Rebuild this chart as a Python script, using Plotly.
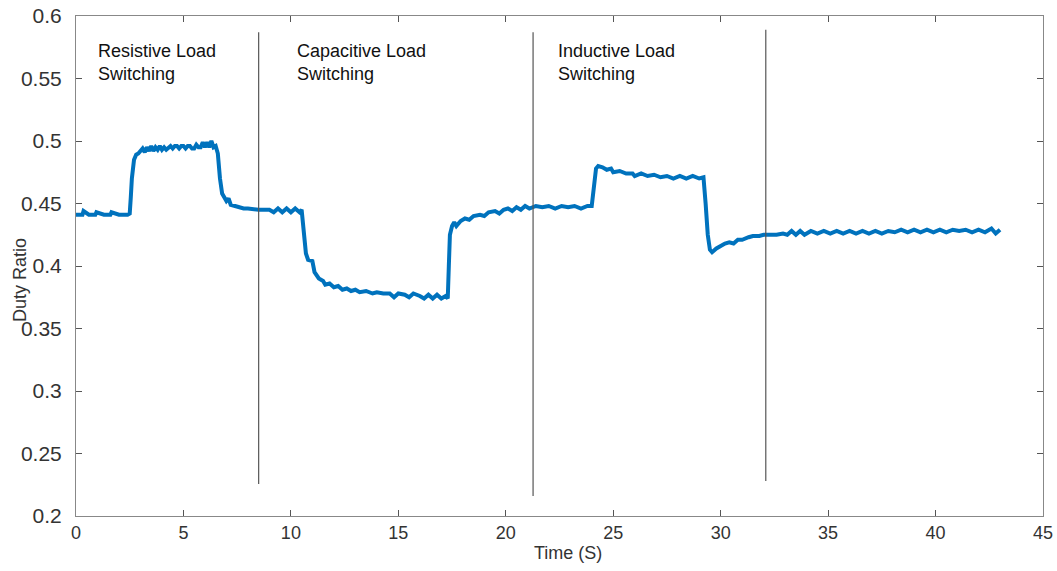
import plotly.graph_objects as go

# Time (s) and duty ratio
time_s = [
    0, 0.3, 0.35, 0.6, 0.9, 0.95, 1.3, 1.6, 1.65, 2.0, 2.4, 2.5,
    2.55, 2.6, 2.7, 2.8, 2.9, 3.0,
    3.1, 3.2, 3.3, 3.4, 3.5, 3.6, 3.7, 3.8, 3.9, 4.0, 4.1, 4.2, 4.3, 4.4, 4.5, 4.6, 4.7, 4.8, 4.9,
    5.0, 5.1, 5.2, 5.3, 5.4, 5.5, 5.6, 5.7, 5.8, 5.9, 6.0, 6.1, 6.2, 6.3, 6.4, 6.5,
    6.6, 6.7, 6.8, 6.9, 7.0, 7.1, 7.2, 7.4, 7.6, 7.8, 8.0, 8.5, 9.0, 9.2, 9.4, 9.6,
    9.8, 10.0, 10.2, 10.4, 10.5,
    10.6, 10.7, 10.8, 11.0, 11.1, 11.3, 11.5, 11.6, 11.8, 12.0, 12.2, 12.4, 12.6,
    12.8, 13.0, 13.2, 13.5, 13.8, 14.0, 14.3, 14.6, 14.8, 15.0, 15.3, 15.5, 15.7,
    16.0, 16.2, 16.4, 16.6, 16.8, 17.0, 17.2, 17.3,
    17.35, 17.4, 17.5, 17.6, 17.7, 17.9, 18.1, 18.3, 18.5, 18.8, 19.0, 19.2, 19.5,
    19.7, 19.9, 20.1, 20.3, 20.5, 20.7, 20.9, 21.1, 21.4, 21.7, 22.0, 22.3, 22.6,
    22.9, 23.2, 23.5, 23.8, 24.0,
    24.1, 24.2, 24.3, 24.5, 24.7, 24.9, 25.0, 25.3, 25.6, 25.9, 26.0, 26.3, 26.6,
    26.9, 27.2, 27.5, 27.8, 28.1, 28.4, 28.7, 29.0, 29.2,
    29.3, 29.4, 29.5, 29.6, 29.8, 30.0, 30.2, 30.4, 30.6, 30.8, 31.0, 31.3, 31.5,
    31.8, 32.0, 32.3, 32.6, 32.9, 33.1, 33.3, 33.5, 33.7, 33.9, 34.2, 34.5, 34.8,
    35.1, 35.4, 35.7, 36.0, 36.3, 36.6, 36.9, 37.2, 37.5, 37.8, 38.1, 38.4, 38.7,
    39.0, 39.3, 39.6, 39.9, 40.2, 40.5, 40.8, 41.1, 41.4, 41.7, 42.0, 42.3, 42.6,
    42.8, 43.0,
]
duty_ratio = [
    0.441, 0.441, 0.444, 0.441, 0.441, 0.443, 0.441, 0.441, 0.443, 0.441, 0.441, 0.442,
    0.455, 0.470, 0.485, 0.489, 0.490, 0.492,
    0.494, 0.491, 0.495, 0.492, 0.496, 0.492, 0.495, 0.493, 0.496, 0.493, 0.495, 0.493, 0.495, 0.496, 0.494, 0.496, 0.496, 0.494, 0.496,
    0.496, 0.494, 0.496, 0.496, 0.494, 0.494, 0.497, 0.495, 0.495, 0.499, 0.495, 0.499, 0.495, 0.500, 0.495, 0.496,
    0.490, 0.470, 0.458, 0.455, 0.452, 0.454, 0.449, 0.448, 0.447, 0.446, 0.446, 0.445, 0.445, 0.443, 0.446, 0.443,
    0.446, 0.443, 0.446, 0.443, 0.445,
    0.430, 0.410, 0.405, 0.404, 0.395, 0.390, 0.388, 0.385, 0.386, 0.383, 0.384, 0.381, 0.382,
    0.380, 0.381, 0.379, 0.380, 0.378, 0.379, 0.378, 0.378, 0.375, 0.378, 0.377, 0.375, 0.378,
    0.376, 0.374, 0.377, 0.374, 0.377, 0.374, 0.376, 0.374,
    0.400, 0.425, 0.432, 0.435, 0.432, 0.436, 0.438, 0.437, 0.440, 0.441, 0.440, 0.443, 0.444,
    0.442, 0.445, 0.446, 0.444, 0.447, 0.445, 0.448, 0.446, 0.448, 0.447, 0.448, 0.446, 0.448,
    0.447, 0.448, 0.446, 0.448, 0.448,
    0.465, 0.478, 0.480, 0.479, 0.477, 0.478, 0.475, 0.476, 0.474, 0.474, 0.472, 0.474, 0.472,
    0.473, 0.471, 0.472, 0.470, 0.472, 0.470, 0.472, 0.470, 0.471,
    0.450, 0.425, 0.413, 0.411, 0.414, 0.416, 0.418, 0.419, 0.418, 0.421, 0.421, 0.423, 0.424,
    0.424, 0.425, 0.425, 0.425, 0.426, 0.425, 0.428, 0.425, 0.428, 0.425, 0.428, 0.426, 0.428,
    0.426, 0.428, 0.426, 0.428, 0.426, 0.428, 0.426, 0.428, 0.426, 0.428, 0.427, 0.429, 0.427,
    0.429, 0.427, 0.429, 0.427, 0.429, 0.427, 0.429, 0.428, 0.429, 0.427, 0.429, 0.427, 0.430,
    0.426, 0.429,
]

# Divider lines between the switching phases
divider_x = [8.5, 21.27, 32.1]
divider_top = [0.587, 0.587, 0.589]
divider_bottom = [0.2256, 0.216, 0.228]

# Phase labels
label_text = ["Resistive Load<br>Switching", "Capacitive Load<br>Switching",
              "Inductive Load<br>Switching"]
label_x = [0.93, 10.19, 22.34]
label_y = [0.5815, 0.5815, 0.5815]

x_ticks = [0, 5, 10, 15, 20, 25, 30, 35, 40, 45]
y_ticks = [0.2, 0.25, 0.3, 0.35, 0.4, 0.45, 0.5, 0.55, 0.6]
y_tick_text = ["0.2", "0.25", "0.3", "0.35", "0.4", "0.45", "0.5", "0.55", "0.6"]

x_title = "Time (S)"
y_title = "Duty Ratio"

FONT = "Liberation Sans, Arial, sans-serif"

fig = go.Figure()
fig.add_trace(go.Scatter(
    x=time_s, y=duty_ratio, mode="lines",
    line=dict(color="#0072BD", width=4), showlegend=False,
))

for xv, yt, yb in zip(divider_x, divider_top, divider_bottom):
    fig.add_shape(type="line", xref="x", yref="y", x0=xv, x1=xv, y0=yb, y1=yt,
                  line=dict(color="#555555", width=1.2))

for txt, xv, yv in zip(label_text, label_x, label_y):
    fig.add_annotation(x=xv, y=yv, xref="x", yref="y", text=txt, showarrow=False,
                       xanchor="left", yanchor="top", align="left",
                       font=dict(family=FONT, size=18, color="#111111"))

# Axis titles placed as text annotations for precise positioning
fig.add_annotation(x=0.509, y=-0.074, xref="paper", yref="paper", text=x_title,
                   showarrow=False, xanchor="center", yanchor="middle",
                   font=dict(family=FONT, size=18, color="#333333"))
fig.add_annotation(x=-0.058, y=0.472, xref="paper", yref="paper", text=y_title,
                   showarrow=False, xanchor="center", yanchor="middle", textangle=-90,
                   font=dict(family=FONT, size=18, color="#333333"))

axis_common = dict(showline=True, linecolor="#888888", linewidth=1, mirror="ticks",
                   ticks="inside", ticklen=6, tickcolor="#555555", showgrid=False,
                   zeroline=False, automargin=False)

fig.update_xaxes(range=[0, 45], tickvals=x_ticks,
                 tickfont=dict(family=FONT, size=18, color="#333333"),
                 **axis_common)
fig.update_yaxes(range=[0.2, 0.6], tickvals=y_ticks, ticktext=y_tick_text,
                 tickfont=dict(family=FONT, size=21, color="#333333"),
                 ticklabelstandoff=9,
                 **axis_common)

fig.update_layout(
    width=1057, height=571,
    margin=dict(l=76, r=14, t=16, b=55),
    plot_bgcolor="white", paper_bgcolor="white",
)

fig.write_html("out.html", config={"displayModeBar": False},
               post_script="document.body.style.margin='0';")
